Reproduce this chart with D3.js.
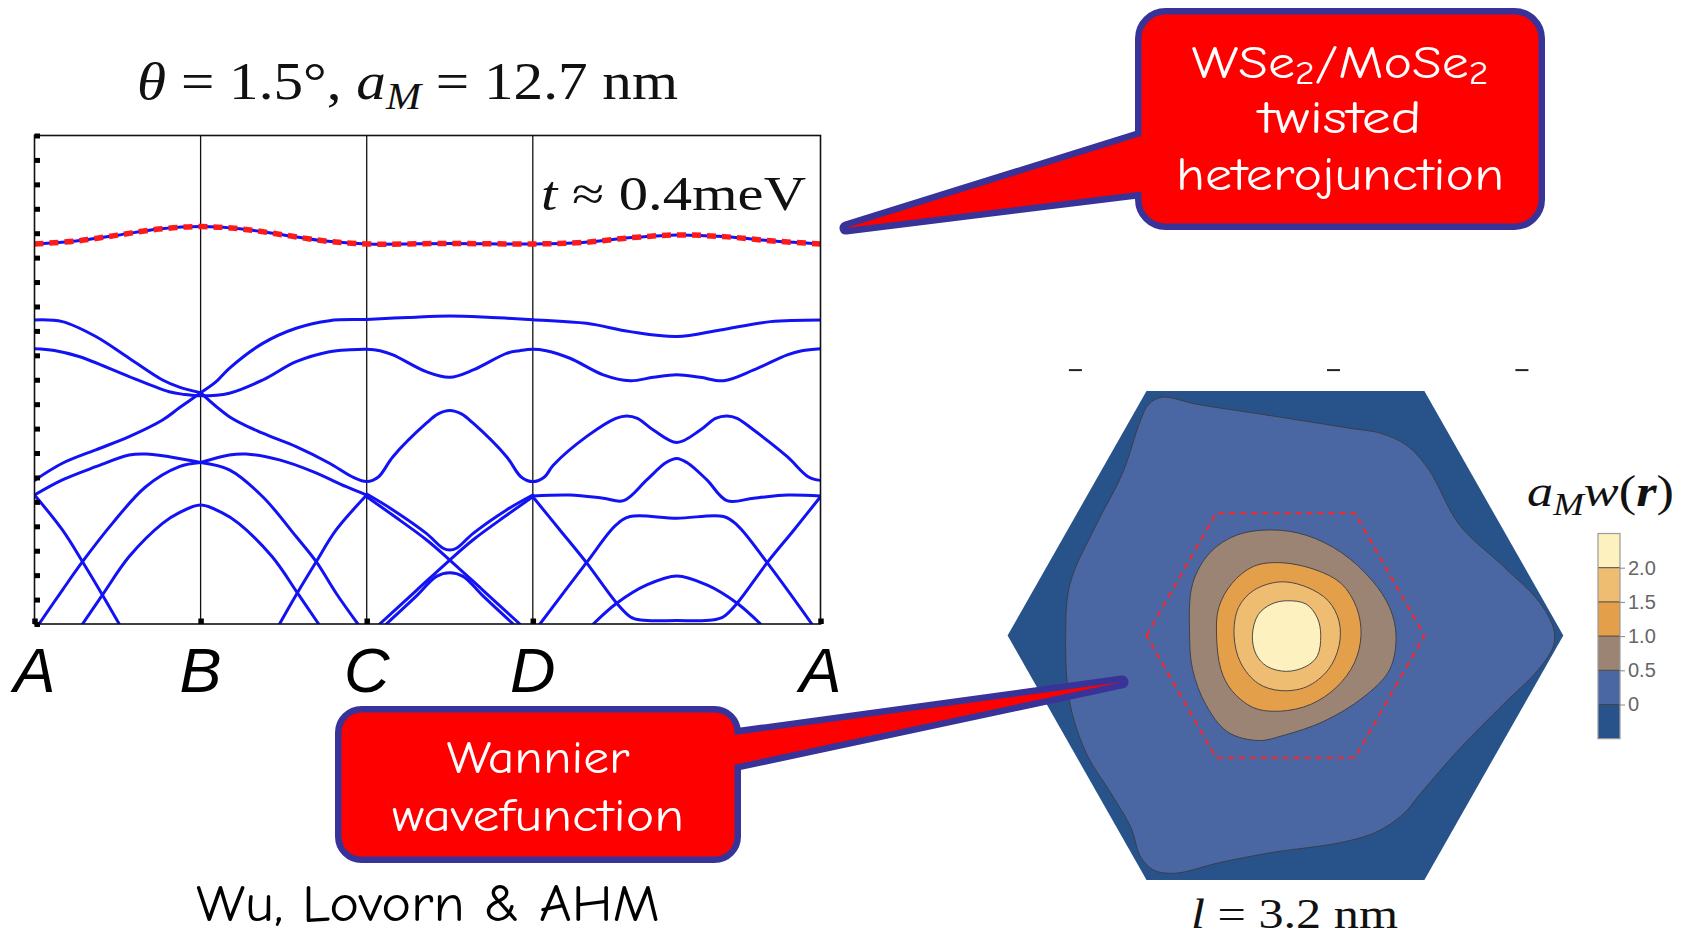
<!DOCTYPE html>
<html>
<head>
<meta charset="utf-8">
<script src="https://cdn.jsdelivr.net/npm/d3@7"></script>
<style>
  html, body { margin: 0; padding: 0; background: #fff; }
  svg { display: block; }
</style>
</head>
<body>
<svg width="1688" height="937"></svg>
<script>
// ---- band structure along A-B-C-D-A (energy in arbitrary units, one tick = 1) ----
var kLabels = ['A', 'B', 'C', 'D', 'A'];
var kTicks = [0, 1, 2, 3, 4.732];
var eTicks = d3.range(0, 21);

// topmost (flat) band, the one drawn red dashed
var flatBand = [[0,15.56],[0.25,15.68],[0.5,15.92],[0.75,16.17],[1,16.27],[1.25,16.17],[1.5,15.93],[1.75,15.68],[2,15.56],
  [2.5,15.58],[3,15.56],[3.3,15.62],[3.6,15.82],[3.87,15.93],[4.15,15.86],[4.45,15.68],[4.732,15.56]];

var bandP = [[0,12.45],[0.168,12.38],[0.369,11.77],[0.57,10.88],[0.771,9.99],[0.872,9.7],[1,9.47],
  [1.09,9.9],[1.173,10.47],[1.374,11.49],[1.575,12.11],[1.776,12.42],[2,12.47],
  [2.25,12.55],[2.5,12.61],[2.75,12.55],[3,12.46],
  [3.323,12.31],[3.586,11.97],[3.867,11.77],[4.129,12.04],[4.431,12.38],[4.732,12.45]];
var bandU = [[0,11.27],[0.12,11.2],[0.268,10.95],[0.57,10.13],[0.811,9.51],[0.9,9.4],[1,9.34],
  [1.173,9.45],[1.374,9.99],[1.575,10.74],[1.776,11.15],[1.9,11.23],[2,11.25],
  [2.08,11.19],[2.158,11.02],[2.359,10.33],[2.5,10.1],[2.641,10.4],[2.842,11.08],[2.92,11.19],[3,11.25],
  [3.08,11.19],[3.224,10.88],[3.424,10.2],[3.586,9.96],[3.726,10.1],[3.867,10.2],[4.008,10.1],[4.149,9.96],
  [4.33,10.4],[4.532,11.02],[4.62,11.19],[4.732,11.27]];
var bandL = [[0,5.88],[0.168,6.58],[0.369,7.13],[0.57,7.67],[0.771,8.35],[0.872,8.85],[1,9.47],
  [1.173,8.49],[1.374,7.81],[1.575,7.26],[1.776,6.58],[1.92,6.0],[2,5.83],
  [2.07,6.02],[2.158,6.85],[2.359,8.22],[2.43,8.6],[2.5,8.74],[2.57,8.6],[2.641,8.22],[2.842,6.85],[2.93,6.02],[3,5.83],
  [3.07,6.02],[3.123,6.5],[3.323,7.67],[3.5,8.42],[3.566,8.52],[3.63,8.42],[3.726,7.94],[3.867,7.43],
  [4.008,7.94],[4.1,8.42],[4.169,8.52],[4.23,8.42],[4.33,7.94],[4.532,6.85],[4.66,6.02],[4.732,5.88]];
var bandM = [[0,5.28],[0.168,5.9],[0.369,6.44],[0.57,6.92],[0.67,6.96],[0.811,6.85],[1,6.61],
  [1.173,6.92],[1.274,6.96],[1.475,6.72],[1.676,6.24],[1.877,5.62],[2,5.28]];
var bandL2 = [[0.027,0],[0.168,1.39],[0.289,2.55],[0.469,4.12],[0.67,5.62],[0.872,6.44],[1,6.61],
  [1.173,6.31],[1.374,5.21],[1.575,3.58],[1.696,2.55],[1.816,1.26],[1.947,0]];
var bandL3 = [[0.289,0],[0.409,1.19],[0.57,2.76],[0.771,4.12],[0.872,4.56],[1,4.87],
  [1.128,4.56],[1.229,4.12],[1.43,2.76],[1.591,1.19],[1.711,0]];
var lineD1 = [[0,5.28],[0.168,3.85],[0.289,2.55],[0.409,1.19],[0.51,0]];
var lineR1 = [[1.475,0],[1.575,1.19],[1.696,2.55],[1.816,3.85],[2,5.28]];
var bandV5 = [[2,5.32],[2.158,4.67],[2.359,3.71],[2.46,3.1],[2.5,3.03],[2.54,3.1],[2.641,3.71],[2.842,4.67],[3,5.28]];
var lineX1 = [[2,5.21],[2.158,4.45],[2.359,3.45],[2.5,2.62],[2.7,1.38],[2.922,0]];
var lineX2 = [[2.078,0],[2.3,1.38],[2.5,2.62],[2.641,3.45],[2.842,4.45],[3,5.21]];
var bandL4 = [[2.118,0],[2.3,1.15],[2.42,1.95],[2.5,2.1],[2.58,1.95],[2.7,1.15],[2.882,0]];
var bandF = [[3,5.24],[3.224,5.28],[3.424,5.15],[3.546,5.05],[3.686,5.9],[3.8,6.6],[3.867,6.78],[3.93,6.6],
  [4.048,5.9],[4.169,5.05],[4.33,5.15],[4.532,5.28],[4.732,5.24]];
var bandW = [[3,5.21],[3.163,3.85],[3.323,2.51],[3.505,0.85],[3.586,0.3],[3.65,0.16],[3.867,0.14],
  [4.08,0.16],[4.148,0.3],[4.23,0.85],[4.411,2.51],[4.572,3.85],[4.732,5.21]];
var bandT = [[3.043,0],[3.323,2.51],[3.5,4.05],[3.586,4.4],[3.867,4.33],[4.148,4.4],[4.23,4.05],[4.411,2.51],[4.68,0]];
var bandH = [[3.364,0],[3.505,0.85],[3.686,1.6],[3.867,1.97],[4.048,1.6],[4.23,0.85],[4.371,0]];

// ---- Wannier function contours (hexagon units, corner at x = 1) ----
var cellHex = [[-1,0],[-0.5,0.866],[0.5,0.866],[1,0],[0.5,-0.866],[-0.5,-0.866]];
var innerHex = [[-0.5,0],[-0.25,0.433],[0.25,0.433],[0.5,0],[0.25,-0.433],[-0.25,-0.433]];
var level0 = [[-0.444,0.844],[-0.319,0.819],[-0.082,0.783],[0.232,0.734],[0.343,0.716],[0.437,0.673],[0.516,0.587],
  [0.626,0.392],[0.784,0.245],[0.91,0.123],[0.965,0.025],[0.965,-0.036],[0.91,-0.121],[0.784,-0.244],[0.626,-0.402],
  [0.485,-0.561],[0.422,-0.634],[0.327,-0.696],[0.201,-0.733],[-0.051,-0.769],[-0.24,-0.805],[-0.397,-0.842],
  [-0.476,-0.83],[-0.523,-0.781],[-0.555,-0.683],[-0.634,-0.549],[-0.712,-0.427],[-0.775,-0.243],[-0.791,0.001],
  [-0.775,0.184],[-0.681,0.392],[-0.586,0.575],[-0.523,0.758],[-0.492,0.819]];
var level05 = [[-0.345,0.001],[-0.334,0.184],[-0.271,0.294],[-0.177,0.355],[-0.051,0.374],[0.075,0.355],[0.201,0.294],
  [0.311,0.196],[0.375,0.099],[0.398,0.001],[0.375,-0.121],[0.28,-0.219],[0.138,-0.304],[-0.004,-0.353],
  [-0.098,-0.372],[-0.209,-0.341],[-0.287,-0.244],[-0.334,-0.121]];
var level10 = [[-0.248,0.001],[-0.24,0.099],[-0.193,0.184],[-0.114,0.245],[-0.019,0.258],[0.107,0.233],[0.201,0.184],
  [0.256,0.099],[0.272,0.001],[0.248,-0.097],[0.185,-0.182],[0.091,-0.244],[-0.019,-0.268],[-0.114,-0.256],
  [-0.193,-0.195],[-0.232,-0.121]];
var level15 = [[-0.185,0.001],[-0.169,0.099],[-0.114,0.16],[-0.019,0.19],[0.075,0.172],[0.154,0.123],[0.193,0.05],
  [0.193,-0.036],[0.154,-0.121],[0.075,-0.182],[-0.019,-0.195],[-0.098,-0.17],[-0.161,-0.097]];
var level20 = [[-0.119,0.001],[-0.098,0.074],[-0.051,0.111],[0.004,0.123],[0.075,0.111],[0.115,0.062],[0.127,0.001],
  [0.115,-0.072],[0.075,-0.109],[0.004,-0.127],[-0.067,-0.109],[-0.106,-0.066]];
var topMarks = [-0.756, 0.173, 0.851];

// colour bar
var barBounds = [-0.5, 0, 0.5, 1, 1.5, 2, 2.5];
var barColors = ['#27538a', '#4a67a3', '#9b8474', '#e49f4a', '#efbd72', '#fdf1bf'];
var barTicks = [0, 0.5, 1, 1.5, 2];
var barLabels = ['0', '0.5', '1.0', '1.5', '2.0'];

var svg = d3.select('svg');
var blue = '#1212f5';

// ================= band plot =================
var x = d3.scaleLinear().domain([0, 4.732]).range([34.5, 820.5]),
    y = d3.scaleLinear().domain([0, 20]).range([624, 135.5]);

svg.append('clipPath').attr('id', 'plotclip')
  .append('rect').attr('x', 34.5).attr('y', 135.5).attr('width', 786).attr('height', 488.5);

var bp = svg.append('g').attr('class', 'bands');

bp.selectAll('.kline')
  .data(kTicks.slice(1, 4))
  .enter().append('line')
  .attr('x1', function(d) { return x(d); }).attr('x2', function(d) { return x(d); })
  .attr('y1', y(20)).attr('y2', y(0))
  .attr('stroke', '#111').attr('stroke-width', 1.3);

var line = d3.line()
  .x(function(d) { return x(d[0]); })
  .y(function(d) { return y(d[1]); })
  .curve(d3.curveCatmullRom.alpha(0.5));

// bands that cross at B get cut there so the crossing stays sharp
function pieces(pts, cut) {
  if (cut == null) return [pts];
  return [pts.filter(function(p) { return p[0] <= cut + 1e-6; }),
          pts.filter(function(p) { return p[0] >= cut - 1e-6; })]
    .filter(function(s) { return s.length > 1; });
}

var crossing = [bandP, bandL, bandM, bandL2];
var smoothBands = [bandU, bandL3, lineD1, lineR1, bandV5, lineX1, lineX2, bandL4, bandF, bandW, bandT, bandH, flatBand];
var segs = [];
crossing.forEach(function(b) { segs = segs.concat(pieces(b, kTicks[1])); });
smoothBands.forEach(function(b) { segs = segs.concat(pieces(b)); });

var lines = bp.append('g').attr('clip-path', 'url(#plotclip)');
lines.selectAll('.band')
  .data(segs)
  .enter().append('path')
  .attr('class', 'band')
  .attr('d', line)
  .attr('fill', 'none')
  .attr('stroke', blue)
  .attr('stroke-width', 3)
  .attr('stroke-linecap', 'round');

lines.append('path')
  .datum(flatBand)
  .attr('d', line)
  .attr('fill', 'none')
  .attr('stroke', '#ff1a1a')
  .attr('stroke-width', 5.5)
  .attr('stroke-dasharray', '9,6');

bp.append('rect')
  .attr('x', x(0)).attr('y', y(20))
  .attr('width', x(4.732) - x(0)).attr('height', y(0) - y(20))
  .attr('fill', 'none').attr('stroke', '#111').attr('stroke-width', 1.6);

// energy ticks: small black squares on the left edge
var yAxis = d3.axisRight(y).tickValues(eTicks).tickSize(5.5).tickFormat('');
bp.append('g').attr('transform', 'translate(' + x(0) + ',0)').call(yAxis)
  .call(function(g) {
    g.select('.domain').remove();
    g.selectAll('.tick line').attr('stroke', '#000').attr('stroke-width', 5);
  });

var xAxis = d3.axisTop(x).tickValues(kTicks).tickSize(5.5).tickFormat('');
bp.append('g').attr('transform', 'translate(0,' + y(0) + ')').call(xAxis)
  .call(function(g) {
    g.select('.domain').remove();
    g.selectAll('.tick line').attr('stroke', '#000').attr('stroke-width', 5.5);
  });

bp.selectAll('.klabel')
  .data(kLabels)
  .enter().append('text')
  .attr('x', function(d, i) { return x(kTicks[i]); })
  .attr('y', 692)
  .attr('text-anchor', 'middle')
  .attr('font-family', 'Liberation Sans, Arial, sans-serif')
  .attr('font-style', 'italic')
  .attr('font-size', 63)
  .attr('fill', '#000')
  .text(function(d) { return d; });

var title = svg.append('text')
  .attr('x', 137).attr('y', 99)
  .attr('font-family', 'Liberation Serif, Times New Roman, serif')
  .attr('font-size', 52)
  .attr('textLength', 541).attr('lengthAdjust', 'spacingAndGlyphs')
  .attr('fill', '#111');
title.append('tspan').attr('font-style', 'italic').text('θ');
title.append('tspan').text(' = 1.5°, ');
title.append('tspan').attr('font-style', 'italic').text('a');
title.append('tspan').attr('font-style', 'italic').attr('font-size', 37).attr('dy', 10).text('M');
title.append('tspan').attr('dy', -10).text(' = 12.7 nm');

var tl = svg.append('text')
  .attr('x', 541).attr('y', 210)
  .attr('font-family', 'Liberation Serif, Times New Roman, serif')
  .attr('font-size', 48)
  .attr('textLength', 265).attr('lengthAdjust', 'spacingAndGlyphs')
  .attr('fill', '#111');
tl.append('tspan').attr('font-style', 'italic').text('t');
tl.append('tspan').text(' ≈ 0.4meV');

// ================= Wannier contour plot =================
var hx = d3.scaleLinear().domain([-1, 1]).range([1007.6, 1563.3]),
    hy = d3.scaleLinear().domain([-0.866, 0.866]).range([880, 391]);

var cp = svg.append('g').attr('class', 'wannier');

var poly = d3.line().x(function(d) { return hx(d[0]); }).y(function(d) { return hy(d[1]); });

cp.append('path')
  .attr('d', poly(cellHex) + 'Z')
  .attr('fill', barColors[0]);

var smooth = d3.line()
  .x(function(d) { return hx(d[0]); })
  .y(function(d) { return hy(d[1]); })
  .curve(d3.curveCatmullRomClosed.alpha(0.5));

var levels = [level0, level05, level10, level15, level20];
cp.selectAll('.level')
  .data(levels)
  .enter().append('path')
  .attr('class', 'level')
  .attr('d', smooth)
  .attr('fill', function(d, i) { return barColors[i + 1]; })
  .attr('stroke', '#3a3a44')
  .attr('stroke-width', 0.9);

cp.append('path')
  .attr('d', poly(innerHex) + 'Z')
  .attr('fill', 'none')
  .attr('stroke', '#ff2323')
  .attr('stroke-width', 2)
  .attr('stroke-dasharray', '6,5');

cp.selectAll('.topmark')
  .data(topMarks)
  .enter().append('line')
  .attr('x1', function(d) { return hx(d) - 6.5; })
  .attr('x2', function(d) { return hx(d) + 6.5; })
  .attr('y1', hy(0.94)).attr('y2', hy(0.94))
  .attr('stroke', '#222').attr('stroke-width', 2);

// colour bar
var cy = d3.scaleLinear().domain([-0.5, 2.5]).range([738.7, 533.5]);
var cb = svg.append('g').attr('class', 'colorbar');
cb.selectAll('rect.bin')
  .data(barColors)
  .enter().append('rect')
  .attr('class', 'bin')
  .attr('x', 1598).attr('width', 22)
  .attr('y', function(d, i) { return cy(barBounds[i + 1]); })
  .attr('height', function(d, i) { return cy(barBounds[i]) - cy(barBounds[i + 1]); })
  .attr('fill', function(d) { return d; });
cb.selectAll('line.sep')
  .data(barTicks)
  .enter().append('line')
  .attr('x1', 1598).attr('x2', 1620)
  .attr('y1', function(d) { return cy(d); }).attr('y2', function(d) { return cy(d); })
  .attr('stroke', '#444').attr('stroke-width', 1);
cb.append('rect')
  .attr('x', 1598).attr('y', cy(2.5)).attr('width', 22).attr('height', cy(-0.5) - cy(2.5))
  .attr('fill', 'none').attr('stroke', '#9a9a9a').attr('stroke-width', 1.2);
var cAxis = d3.axisRight(cy).tickValues(barTicks).tickSize(5).tickPadding(3)
  .tickFormat(function(d, i) { return barLabels[i]; });
cb.append('g').attr('transform', 'translate(1620,0)').call(cAxis)
  .call(function(g) {
    g.select('.domain').remove();
    g.selectAll('.tick line').attr('stroke', '#888');
    g.selectAll('.tick text')
      .attr('fill', '#666')
      .attr('font-family', 'Liberation Sans, Arial, sans-serif')
      .attr('font-size', 20);
  });

var ct = svg.append('text')
  .attr('x', 1527).attr('y', 506)
  .attr('font-family', 'Liberation Serif, Times New Roman, serif')
  .attr('font-size', 44)
  .attr('textLength', 147).attr('lengthAdjust', 'spacingAndGlyphs')
  .attr('fill', '#111');
ct.append('tspan').attr('font-style', 'italic').text('a');
ct.append('tspan').attr('font-style', 'italic').attr('font-size', 31).attr('dy', 9).text('M');
ct.append('tspan').attr('font-style', 'italic').attr('dy', -9).text('w');
ct.append('tspan').text('(');
ct.append('tspan').attr('font-weight', 'bold').attr('font-style', 'italic').text('r');
ct.append('tspan').text(')');

var lt = svg.append('text')
  .attr('x', 1191).attr('y', 928)
  .attr('font-family', 'Liberation Serif, Times New Roman, serif')
  .attr('font-size', 42)
  .attr('textLength', 207).attr('lengthAdjust', 'spacingAndGlyphs')
  .attr('fill', '#111');
lt.append('tspan').attr('font-style', 'italic').text('l');
lt.append('tspan').text(' = 3.2 nm');

// ================= callouts =================
var comic = "'Comic Sans MS', 'Comic Neue', Lato, sans-serif";

function callout(box, wedge) {
  var g = svg.append('g').attr('class', 'callout');
  var wpath = d3.line()(wedge) + 'Z';
  [['#383398', 13], ['#ff0000', 0]].forEach(function(s) {
    g.append('path').attr('d', wpath)
      .attr('fill', s[0]).attr('stroke', s[0]).attr('stroke-width', s[1])
      .attr('stroke-linejoin', 'round');
    g.append('rect')
      .attr('x', box[0]).attr('y', box[1]).attr('width', box[2]).attr('height', box[3])
      .attr('rx', box[4])
      .attr('fill', s[0]).attr('stroke', s[0]).attr('stroke-width', s[1]);
  });
  return g;
}

function label(g, cx, yy, len, parts) {
  var t = g.append('text')
    .attr('x', cx).attr('y', yy)
    .attr('text-anchor', 'middle')
    .attr('font-family', comic)
    .attr('font-size', 46)
    .attr('fill', '#fff')
    .attr('textLength', len).attr('lengthAdjust', 'spacingAndGlyphs');
  parts.forEach(function(p) {
    var s = t.append('tspan').text(p[0]);
    if (p[1]) s.attr('font-size', 32).attr('dy', 6);
    if (p[2]) s.attr('dy', -6);
  });
}

var c1 = callout([1141.5, 14.5, 397, 209, 24], [[1170, 127], [846, 228], [1170, 188]]);
label(c1, 1340, 78, 297, [['WSe'], ['2', true], ['/MoSe', false, true], ['2', true]]);
label(c1, 1340, 133, 163, [['twisted']]);
label(c1, 1340, 190, 328, [['heterojunction']]);

var c2 = callout([341.5, 712.5, 393, 144, 20], [[705, 739], [1122, 682], [705, 771]]);
label(c2, 538, 773, 183, [['Wannier']]);
label(c2, 538, 831, 292, [['wavefunction']]);

svg.append('text')
  .attr('x', 196).attr('y', 921)
  .attr('font-family', comic)
  .attr('font-size', 52)
  .attr('textLength', 464).attr('lengthAdjust', 'spacingAndGlyphs')
  .attr('fill', '#000')
  .text('Wu, Lovorn & AHM');
</script>
</body>
</html>
